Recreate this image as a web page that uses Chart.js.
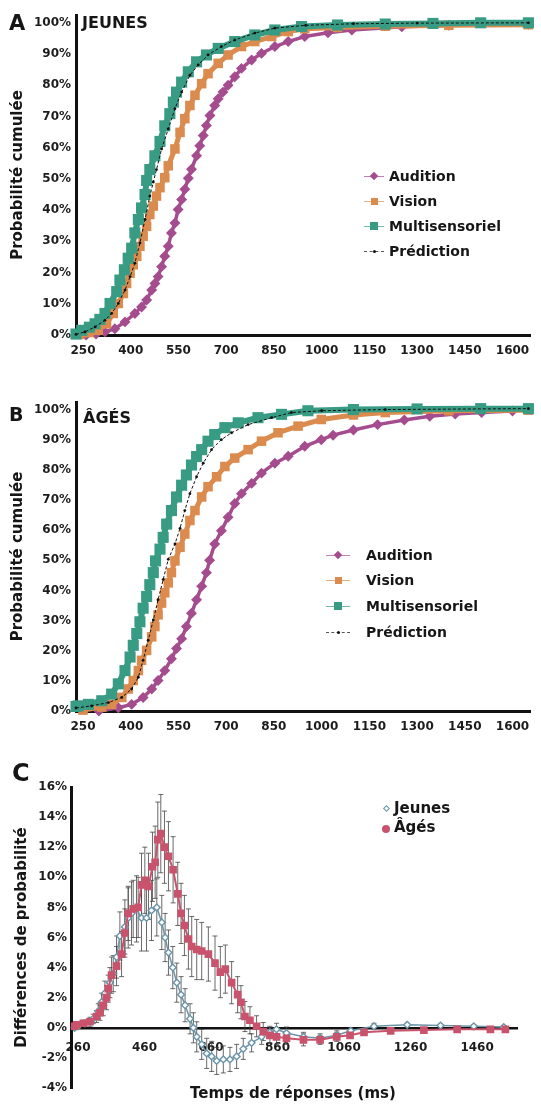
<!DOCTYPE html>
<html lang="fr">
<head>
<meta charset="utf-8">
<title>Probabilité cumulée</title>
<script src="https://cdn.jsdelivr.net/npm/chart.js@4.4.1/dist/chart.umd.min.js"></script>
<style>
  html, body { margin: 0; padding: 0; background: #fff; }
  body { width: 541px; height: 1104px; position: relative; overflow: hidden;
         font-family: "DejaVu Sans", sans-serif; font-weight: bold; color: #161616; }
  canvas { position: absolute; left: 0; }
  .t { position: absolute; white-space: nowrap; line-height: 1; transform: translateY(-50%); }
  .m { position: absolute; }
</style>
</head>
<body>
<canvas id="cA" width="541" height="368" style="top:0px"></canvas>
<canvas id="cB" width="541" height="368" style="top:376px"></canvas>
<canvas id="cC" width="541" height="362" style="top:742px"></canvas>

<script>
// ticks
const xTicksAB = [250, 400, 550, 700, 850, 1000, 1150, 1300, 1450, 1600];
const yTicksAB = [0, 10, 20, 30, 40, 50, 60, 70, 80, 90, 100];
const xTicksC = [260, 460, 660, 860, 1060, 1260, 1460];
const yTicksC = [-4, -2, 0, 2, 4, 6, 8, 10, 12, 14, 16];

const seriesAB = ['Audition', 'Vision', 'Multisensoriel', 'Prédiction'];
const seriesC = ['Jeunes', 'Âgés'];

// A - jeunes (temps ms / probabilite cumulee %)
const msA_aud = [260, 291, 319, 350, 382, 413, 434, 450, 466, 476, 486, 497, 507, 518, 528, 539, 549, 560, 570, 581, 591, 607, 617, 628, 638, 649, 664, 675, 690, 706, 727, 748, 780, 811, 853, 895, 947, 1020, 1095, 1252, 1400, 1650];
const pA_aud  = [0, 0.3, 1, 2, 4.2, 6.9, 9, 11.2, 14.4, 16.5, 18.7, 21.9, 25.2, 28.4, 32.7, 35.9, 40.2, 43.4, 46.7, 50.2, 53.1, 57.4, 60.6, 63.9, 67.1, 70.3, 73.5, 75.7, 77.8, 80, 82.7, 85.4, 88.1, 90.2, 92.4, 94, 95.6, 96.8, 97.7, 98.7, 99.2, 99.5];
const msA_vis = [240, 269, 298, 324, 345, 361, 377, 387, 398, 408, 419, 429, 439, 450, 460, 471, 481, 492, 507, 518, 539, 555, 570, 586, 602, 623, 643, 675, 706, 748, 790, 843, 895, 947, 1050, 1200, 1400, 1650];
const pA_vis  = [0.2, 0.8, 1.5, 3.6, 6.9, 10.1, 13.3, 16.5, 19.8, 22.5, 25.2, 28.4, 31.6, 34.8, 38.6, 41.3, 44.5, 47.2, 50.4, 54.2, 59.6, 64.9, 69.3, 73.5, 76.8, 80.5, 83.7, 87, 89.7, 92.4, 94, 95.6, 97.2, 98.1, 98.5, 98.9, 99.2, 99.4];
const msA_mul = [228, 246, 270, 288, 303, 319, 335, 356, 366, 380, 392, 403, 413, 424, 434, 445, 450, 460, 476, 492, 507, 523, 534, 544, 560, 581, 607, 638, 675, 727, 790, 853, 937, 1050, 1200, 1350, 1500, 1650];
const pA_mul  = [0.3, 1.5, 2.5, 3.6, 5, 6.9, 10.1, 13.9, 17.6, 20.9, 24.6, 27.8, 32.7, 37, 40.7, 45, 49.5, 53, 57.4, 62, 67, 70.9, 74.6, 77.8, 81, 84.3, 87.5, 89.7, 91.8, 94, 96.1, 97.7, 98.8, 99.3, 99.6, 99.8, 100, 100];
const msA_pre = [228, 256, 288, 319, 340, 361, 382, 398, 413, 429, 445, 460, 471, 481, 497, 518, 539, 560, 586, 612, 643, 685, 727, 790, 853, 950, 1100, 1300, 1650];
const pA_pre  = [0.2, 1, 2.6, 4.7, 6.9, 10.1, 14.4, 18.7, 23, 29.5, 37, 44.5, 49, 53, 59.6, 66, 72.5, 77.8, 83.2, 86.5, 89.7, 92.4, 94.5, 96.7, 98.3, 99.2, 99.7, 99.9, 100];

// B - ages
const msB_aud = [300, 361, 403, 439, 466, 486, 507, 528, 544, 560, 575, 591, 607, 623, 638, 648, 664, 685, 706, 727, 748, 780, 811, 853, 895, 947, 999, 1036, 1100, 1176, 1260, 1340, 1420, 1503, 1600];
const pB_aud  = [0, 1.1, 2.2, 4.5, 7.3, 10.1, 13.4, 17.3, 20.7, 24, 28, 32.4, 36.9, 41.4, 45.9, 50, 55.4, 59.8, 64.3, 68.8, 72.1, 75.5, 78.9, 82.2, 84.5, 87.8, 90, 91.5, 93.2, 95, 96.5, 97.8, 98.5, 99, 99.5];
const msB_vis = [250, 309, 340, 372, 392, 408, 424, 434, 450, 466, 476, 486, 497, 507, 518, 528, 539, 555, 570, 586, 602, 623, 643, 670, 696, 727, 769, 811, 863, 926, 999, 1100, 1200, 1400, 1650];
const pB_vis  = [0.3, 1.3, 2.2, 4.5, 7.3, 10.1, 13.4, 16.8, 20.1, 24.6, 28, 31.9, 35.8, 39.2, 42.5, 45.9, 49.8, 54.3, 58.7, 63.2, 66.5, 71, 74.4, 77.7, 81.1, 83.9, 86.7, 89.5, 92.3, 94.5, 96.7, 98.2, 99, 99.6, 99.8];
const msB_mul = [228, 235, 267, 309, 340, 361, 382, 398, 408, 419, 429, 439, 450, 460, 471, 478, 492, 502, 513, 528, 544, 560, 575, 591, 607, 623, 643, 664, 696, 738, 800, 874, 957, 1100, 1300, 1500, 1650];
const pB_mul  = [1.5, 1.7, 2.2, 3.4, 5.6, 9, 13.4, 17.9, 21.8, 25.7, 29.6, 34.1, 38, 41.9, 45.9, 49.8, 53.7, 57.6, 62, 66.5, 71, 74.9, 78.3, 81.6, 84.4, 86.7, 89.5, 91.7, 94, 95.6, 97.3, 98.4, 99.6, 100, 100.2, 100.3, 100.3];
const msB_pre = [228, 277, 330, 372, 403, 424, 439, 455, 471, 486, 502, 518, 539, 555, 570, 586, 607, 628, 654, 685, 717, 769, 843, 905, 1000, 1200, 1650];
const pB_pre  = [1, 1.7, 2.8, 4.5, 7.3, 11.2, 16.8, 23.5, 30.2, 36.9, 43.6, 50.3, 55.4, 60.6, 66.5, 72.1, 77.7, 82.2, 86.7, 90, 92.3, 95, 97.3, 99, 99.6, 100, 100.3];

// C - differences de probabilite (%) et erreurs
const msC_jeu = [250, 260, 281, 306, 321, 331, 341, 356, 366, 376, 386, 401, 411, 421, 436, 451, 466, 481, 497, 512, 522, 532, 545, 557, 570, 582, 597, 607, 617, 632, 647, 662, 677, 697, 717, 737, 757, 782, 812, 837, 857, 887, 938, 988, 1038, 1080, 1150, 1250, 1350, 1450, 1540];
const dC_jeu  = [0, 0.1, 0.3, 0.6, 1.1, 1.7, 2.3, 3.0, 3.6, 4.7, 6.1, 6.7, 7.3, 7.6, 7.9, 7.3, 7.3, 7.8, 8.0, 7.0, 6.0, 5.0, 4.0, 3.0, 2.2, 1.5, 0.6, 0.0, -0.6, -1.1, -1.7, -1.9, -2.2, -2.1, -2.1, -1.9, -1.4, -1.0, -0.6, -0.3, -0.1, -0.35, -0.6, -0.7, -0.5, -0.2, 0.1, 0.2, 0.15, 0.1, 0.05];
const eC_jeu  = [0.1, 0.1, 0.2, 0.3, 0.5, 0.6, 0.8, 1.0, 1.2, 1.4, 1.6, 1.8, 2.0, 2.1, 2.2, 2.2, 2.2, 2.0, 1.9, 1.8, 1.6, 1.5, 1.4, 1.3, 1.2, 1.1, 1.0, 1.0, 1.0, 1.0, 1.0, 1.0, 0.9, 0.9, 0.8, 0.8, 0.7, 0.6, 0.5, 0.4, 0.4, 0.4, 0.3, 0.3, 0.3, 0.2, 0.2, 0.1, 0.1, 0.1, 0.1];
const msC_age = [250, 256, 276, 296, 316, 326, 336, 346, 351, 361, 376, 391, 401, 411, 426, 441, 451, 461, 472, 484, 492, 500, 509, 520, 532, 546, 560, 570, 580, 592, 602, 617, 632, 652, 672, 688, 703, 722, 740, 750, 762, 777, 797, 817, 837, 857, 887, 938, 988, 1038, 1078, 1120, 1200, 1300, 1400, 1500, 1545];
const dC_age  = [0.1, 0.2, 0.3, 0.4, 0.75, 1.0, 1.5, 2.0, 2.6, 3.5, 4.1, 4.9, 6.3, 7.6, 7.9, 8.0, 9.5, 9.8, 9.4, 10.7, 11.0, 12.5, 12.9, 12.0, 11.4, 10.5, 8.9, 7.6, 6.8, 5.9, 5.4, 5.2, 5.1, 4.9, 4.3, 3.7, 3.9, 3.0, 2.2, 1.7, 0.75, 0.5, 0.1, -0.25, -0.5, -0.6, -0.7, -0.8, -0.8, -0.6, -0.5, -0.3, -0.2, -0.15, -0.1, -0.1, -0.1];
const eC_age  = [0.1, 0.1, 0.2, 0.3, 0.4, 0.5, 0.7, 0.8, 0.9, 1.2, 1.3, 1.5, 1.6, 1.8, 1.9, 2.0, 2.1, 2.2, 2.2, 2.3, 2.4, 2.5, 2.6, 2.4, 2.3, 2.2, 2.1, 2.0, 2.0, 2.0, 2.0, 2.0, 1.9, 1.8, 1.8, 1.7, 1.6, 1.4, 1.2, 1.1, 1.0, 0.9, 0.7, 0.6, 0.5, 0.5, 0.4, 0.4, 0.3, 0.3, 0.2, 0.2, 0.1, 0.1, 0.1, 0.1, 0.1];

const colAud = '#a54c8f', colVis = '#db8b4e', colMul = '#389b83', colPre = '#111111';
const colJeu = '#6b94a8', colAge = '#c9536c';

Chart.defaults.font.family = '"DejaVu Sans", sans-serif';

function el(sel) { return document.querySelector(sel) }

function pts(xs, ys) { return xs.map((x, i) => ({ x: x, y: ys[i] })) }

const tickFont = { family: '"DejaVu Sans"', weight: 'bold', size: 12 };
const titleFont = { family: '"DejaVu Sans"', weight: 'bold', size: 15 };

// barres d'erreur dessinees avec les echelles du graphique
const errorBars = {
  id: 'errorBars',
  beforeDatasetsDraw(chart) {
    const ctx = chart.ctx, sx = chart.scales.x, sy = chart.scales.y;
    ctx.save();
    ctx.strokeStyle = '#444';
    ctx.lineWidth = 0.8;
    chart.data.datasets.forEach(ds => {
      if (!ds.errors) return;
      ds.data.forEach((p, i) => {
        const e = ds.errors[i];
        const px = sx.getPixelForValue(p.x);
        const y1 = sy.getPixelForValue(p.y + e), y2 = sy.getPixelForValue(p.y - e);
        ctx.beginPath();
        ctx.moveTo(px, y1); ctx.lineTo(px, y2);
        ctx.moveTo(px - 2.5, y1); ctx.lineTo(px + 2.5, y1);
        ctx.moveTo(px - 2.5, y2); ctx.lineTo(px + 2.5, y2);
        ctx.stroke();
      });
    });
    ctx.restore();
  }
};

function cdfSets(aud, vis, mul, pre) {
  return [
    { label: seriesAB[3], data: pre, order: 0, showLine: true, borderColor: colPre, borderWidth: 1,
      borderDash: [3, 2], pointStyle: 'circle', pointRadius: 1.4, backgroundColor: colPre,
      pointBorderWidth: 0, clip: false },
    { label: seriesAB[2], data: mul, order: 1, showLine: true, borderColor: colMul, borderWidth: 6,
      pointStyle: 'rect', pointRadius: 3.6, backgroundColor: colMul, pointBorderColor: colMul, clip: false },
    { label: seriesAB[1], data: vis, order: 2, showLine: true, borderColor: colVis, borderWidth: 5,
      pointStyle: 'rect', pointRadius: 3.2, backgroundColor: colVis, pointBorderColor: colVis, clip: false },
    { label: seriesAB[0], data: aud, order: 3, showLine: true, borderColor: colAud, borderWidth: 3.5,
      pointStyle: 'rectRot', pointRadius: 3, backgroundColor: colAud, pointBorderColor: colAud, clip: false }
  ];
}

function drawCdf(id, sets, padTop) {
  return new Chart(el(id).getContext('2d'), {
    type: 'scatter',
    data: { datasets: sets },
    options: {
      responsive: false,
      animation: false,
      events: [],
      layout: { padding: { top: padTop, right: 11, left: 0, bottom: 0 } },
      plugins: { legend: { display: false }, tooltip: { enabled: false } },
      scales: {
        x: {
          type: 'linear', min: 228, max: 1655,
          afterBuildTicks: s => { s.ticks = xTicksAB.map(v => ({ value: v })) },
          afterFit: s => { s.height = 33 },
          grid: { display: false, drawTicks: false },
          border: { display: true, color: '#111', width: 3 },
          ticks: { padding: 9, font: tickFont, color: '#1c1c1c', maxRotation: 0, autoSkip: false,
                   callback: v => String(v) }
        },
        y: {
          type: 'linear', min: 0, max: 102.5,
          afterBuildTicks: s => { s.ticks = yTicksAB.map(v => ({ value: v })) },
          afterFit: s => { s.width = 76 },
          grid: { display: false, drawTicks: false },
          border: { display: true, color: '#111', width: 3 },
          ticks: { padding: 5, font: tickFont, color: '#1c1c1c', callback: v => v + '%' },
          title: { display: true, text: 'Probabilité cumulée', font: titleFont, color: '#161616',
                   padding: { top: 9, bottom: 0 } }
        }
      }
    }
  });
}

drawCdf('#cA', cdfSets(pts(msA_aud, pA_aud), pts(msA_vis, pA_vis), pts(msA_mul, pA_mul), pts(msA_pre, pA_pre)), 15);
drawCdf('#cB', cdfSets(pts(msB_aud, pB_aud), pts(msB_vis, pB_vis), pts(msB_mul, pB_mul), pts(msB_pre, pB_pre)), 26);

new Chart(el('#cC').getContext('2d'), {
  type: 'scatter',
  data: {
    datasets: [
      { label: seriesC[1], data: pts(msC_age, dC_age), errors: eC_age, order: 0, showLine: true,
        borderColor: colAge, borderWidth: 2, pointStyle: 'rect', pointRadius: 4,
        backgroundColor: colAge, pointBorderColor: colAge, clip: false },
      { label: seriesC[0], data: pts(msC_jeu, dC_jeu), errors: eC_jeu, order: 1, showLine: true,
        borderColor: colJeu, borderWidth: 1.5, pointStyle: 'rectRot', pointRadius: 3.4,
        backgroundColor: '#ffffff', pointBorderColor: colJeu, pointBorderWidth: 1.4, clip: false }
    ]
  },
  options: {
    responsive: false,
    animation: false,
    events: [],
    layout: { padding: { top: 45, right: 24, left: 0, bottom: 16 } },
    plugins: { legend: { display: false }, tooltip: { enabled: false } },
    scales: {
      x: {
        type: 'linear', min: 239, max: 1580, position: { y: 0 },
        afterBuildTicks: s => { s.ticks = xTicksC.map(v => ({ value: v })) },
        grid: { display: false, drawTicks: false },
        border: { display: true, color: '#111', width: 2.5 },
        ticks: { padding: 13, font: tickFont, color: '#1c1c1c', maxRotation: 0, autoSkip: false,
                 callback: v => String(v) }
      },
      y: {
        type: 'linear', min: -4, max: 16,
        afterBuildTicks: s => { s.ticks = yTicksC.map(v => ({ value: v })) },
        afterFit: s => { s.width = 71 },
        grid: { display: false, drawTicks: false },
        border: { display: true, color: '#111', width: 3 },
        ticks: { padding: 4, font: tickFont, color: '#1c1c1c', callback: v => v + '%' },
        title: { display: true, text: 'Différences de probabilité', font: titleFont, color: '#161616',
                 padding: { top: 13, bottom: 0 } }
      }
    }
  },
  plugins: [errorBars]
});

// textes et legendes
function text(str, x, y, size) {
  const d = document.createElement('div');
  d.className = 't';
  d.textContent = str;
  d.style.left = x + 'px';
  d.style.top = y + 'px';
  d.style.fontSize = size + 'px';
  document.body.appendChild(d);
  return d;
}

function marker(shape, color, cx, cy, size, hollow) {
  const d = document.createElement('div');
  d.className = 'm';
  d.style.left = (cx - size / 2) + 'px';
  d.style.top = (cy - size / 2) + 'px';
  d.style.width = size + 'px';
  d.style.height = size + 'px';
  if (hollow) {
    d.style.boxSizing = 'border-box';
    d.style.border = '1.5px solid ' + color;
    d.style.background = '#fff';
  } else {
    d.style.background = color;
  }
  if (shape === 'diamond') d.style.transform = 'rotate(45deg)';
  if (shape === 'dot') d.style.borderRadius = '50%';
  document.body.appendChild(d);
}

function line(color, x1, x2, y, dashed) {
  const d = document.createElement('div');
  d.className = 'm';
  d.style.left = x1 + 'px';
  d.style.top = (y - 0.5) + 'px';
  d.style.width = (x2 - x1) + 'px';
  d.style.borderTop = '1px ' + (dashed ? 'dashed ' : 'solid ') + color;
  d.style.opacity = '0.7';
  document.body.appendChild(d);
}

const shapesAB = ['diamond', 'square', 'square', 'dot'];
const colsAB = [colAud, colVis, colMul, colPre];
const sizesAB = [6, 7, 8, 3];

text('A', 9, 23, 21);
text('JEUNES', 82, 23, 16);
[176, 201, 226, 251].forEach((y, i) => {
  line(colsAB[i], 364, 384, y, i === 3);
  marker(shapesAB[i], colsAB[i], 374, y, sizesAB[i]);
  text(seriesAB[i], 389, y, 14);
});

text('B', 9, 414, 19);
text('ÂGÉS', 83, 418, 16);
[555, 580, 606, 632].forEach((y, i) => {
  line(colsAB[i], 326, 350, y, i === 3);
  marker(shapesAB[i], colsAB[i], 338, y, sizesAB[i]);
  text(seriesAB[i], 366, y, 14);
});

text('C', 12, 773, 24);
marker('diamond', colJeu, 386, 808, 5, true);
text(seriesC[0], 394, 808, 15);
marker('dot', colAge, 386, 829, 8);
text(seriesC[1], 394, 827, 15);
text('Temps de réponses (ms)', 190, 1093, 15);
</script>
</body>
</html>
